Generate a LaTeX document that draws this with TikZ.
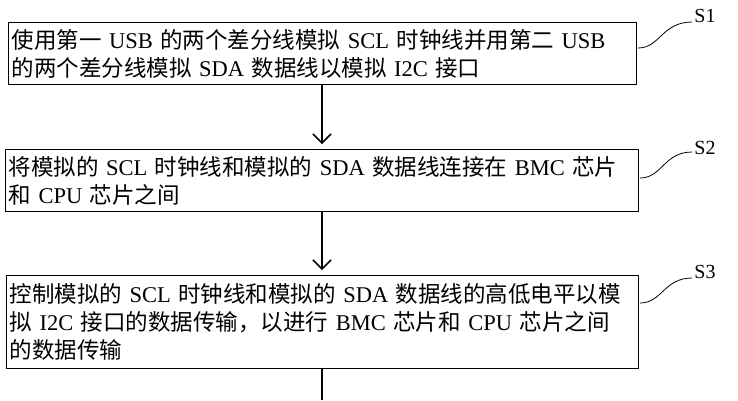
\documentclass[tikz,border=0pt]{standalone}
\usepackage{fontspec}
\setmainfont{Liberation Serif}
\newfontfamily\cjk{Noto Sans CJK SC}
\newcommand\en[1]{{\rmfamily #1}}
\usetikzlibrary{positioning,arrows.meta}
\tikzset{
  stepbox/.style={draw, line width=1.2pt, align=left, inner xsep=3pt, inner ysep=0pt, anchor=north west, font=\fontsize{22.5}{28}\selectfont\cjk},
  flow/.style={-{Straight Barb[length=9pt,width=18pt,line width=1.5pt]}, line width=1.5pt},
  tag/.style={font=\fontsize{20}{20}\selectfont}
}
\begin{document}
\begin{tikzpicture}[x=1pt,y=-1pt]
\useasboundingbox (0,0) rectangle (738,400);

% Steps
\node[stepbox, text width=622pt, minimum height=62pt] (s1) at (8,22)
  {使用第一\en{ USB }的两个差分线模拟\en{ SCL }时钟线并用第二\en{ USB}\\的两个差分线模拟\en{ SDA }数据线以模拟\en{ I2C }接口};
\node[stepbox, text width=627pt, minimum height=62pt] (s2) at (5,149)
  {将模拟的\en{ SCL }时钟线和模拟的\en{ SDA }数据线连接在\en{ BMC }芯片\\和\en{ CPU }芯片之间};
\node[stepbox, text width=626pt, minimum height=93pt] (s3) at (6,275)
  {控制模拟的\en{ SCL }时钟线和模拟的\en{ SDA }数据线的高低电平以模\\拟\en{ I2C }接口的数据传输，以进行\en{ BMC }芯片和\en{ CPU }芯片之间\\的数据传输};

% Arrows
\draw[flow] (322,84) -- (322,144);
\draw[flow] (322,211) -- (322,270);
\coordinate (tail) at (322,400);
\draw[line width=1.5pt] (322,368) -- (tail);

% Step labels
\node[tag] (l1) at (705,16) {S1};
\node[tag] (l2) at (705,148) {S2};
\node[tag] (l3) at (705,272) {S3};
\draw[thick] (638,48) .. controls (660,48) and (662,22) .. (692,22);
\draw[thick] (640,178) .. controls (662,178) and (664,152) .. (692,152);
\draw[thick] (640,303) .. controls (662,303) and (664,278) .. (692,278);
\end{tikzpicture}
\end{document}
